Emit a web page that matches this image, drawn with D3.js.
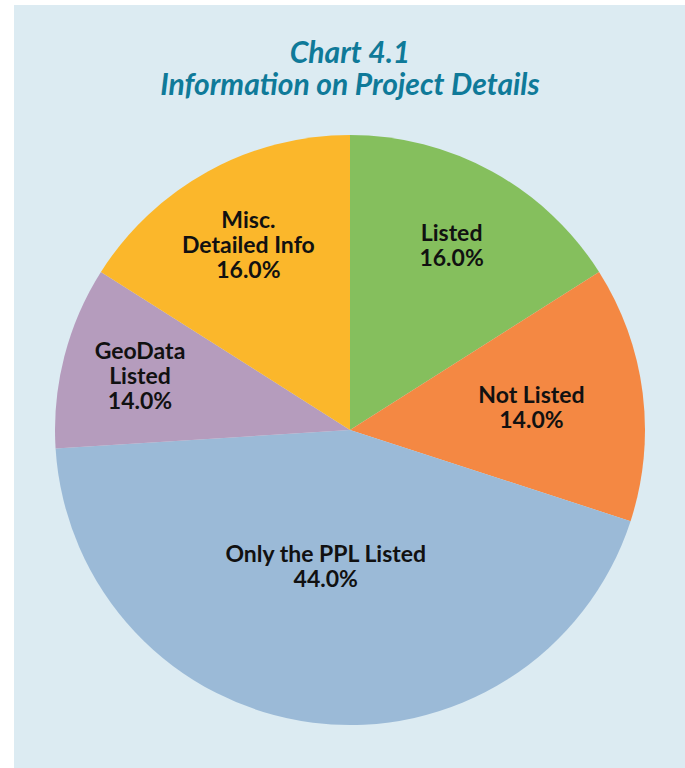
<!DOCTYPE html>
<html lang="en">
<head>
    <meta charset="UTF-8">
    <title>Chart 4.1</title>
    <script src="https://d3js.org/d3.v7.min.js"></script>
    <style>
        body { margin: 0; background: #ffffff; }
    </style>
</head>
<body>
    <svg id="chart" width="685" height="768"></svg>

    <script>
        // categories, drawn slice shares, and the printed percentages
        var categories = ["Listed", "Not Listed", "Only the PPL Listed", "GeoData Listed", "Misc. Detailed Info"];
        var values = [16, 14, 44, 10, 16];
        var printedPct = ["16.0%", "14.0%", "44.0%", "14.0%", "16.0%"];
        var labelLines = [["Listed"], ["Not Listed"], ["Only the PPL Listed"], ["GeoData", "Listed"], ["Misc.", "Detailed Info"]];
        var colors = ["#85bf5d", "#f48843", "#9bbad7", "#b59cbd", "#fbb72b"];
        // how far out each label sits, as a share of the radius
        var labelRadius = [0.715, 0.62, 0.47, 0.735, 0.715];

        var svg = d3.select("#chart");
        var cx = 350, cy = 430, r = 295;

        // light blue panel
        svg.append("rect")
            .attr("x", 14).attr("y", 5)
            .attr("width", 671).attr("height", 763)
            .attr("fill", "#dcebf2");

        // title
        var title = svg.append("text")
            .attr("text-anchor", "middle")
            .attr("font-family", "Lato")
            .attr("font-style", "italic")
            .attr("font-weight", "bold")
            .attr("font-size", "30px")
            .attr("fill", "#0f7a99");
        title.append("tspan").attr("x", cx).attr("y", 63).text("Chart 4.1");
        title.append("tspan").attr("x", cx).attr("y", 95).text("Information on Project Details");

        var pie = d3.pie().sort(null).value(d => d);
        var arcs = pie(values);
        var arcGen = d3.arc().innerRadius(0).outerRadius(r);

        var g = svg.append("g").attr("transform", "translate(" + cx + "," + cy + ")");

        g.selectAll("path")
            .data(arcs)
            .join("path")
            .attr("d", arcGen)
            .attr("fill", (d, i) => colors[i]);

        // labels
        g.selectAll(".lbl")
            .data(arcs)
            .join("text")
            .classed("lbl", true)
            .attr("text-anchor", "middle")
            .attr("font-family", "Lato")
            .attr("font-weight", "bold")
            .attr("font-size", "23px")
            .attr("fill", "#111")
            .each(function(d, i) {
                var a = (d.startAngle + d.endAngle) / 2;
                if (i == 2) a += 0.05;
                var rr = r * labelRadius[i];
                var x = Math.sin(a) * rr;
                var y = -Math.cos(a) * rr;
                var lines = labelLines[i].concat([printedPct[i]]);
                var top = y - (lines.length - 1) * 25 / 2 + 8;
                var t = d3.select(this);
                lines.forEach(function(s, k) {
                    t.append("tspan").attr("x", x).attr("y", top + k * 25).text(s);
                });
            });
    </script>
</body>
</html>
